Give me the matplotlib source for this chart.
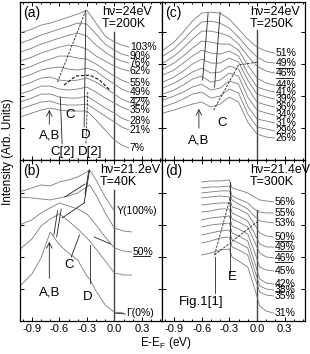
import matplotlib
matplotlib.use('Agg')
import matplotlib.pyplot as plt

plt.rcParams['font.family'] = ['Liberation Sans', 'DejaVu Sans']
plt.rcParams['axes.unicode_minus'] = False

# ---- panel (a): hv=24eV, T=200K  (energy in eV, intensity in arb. units)
e_a = [-1.03, -0.9, -0.8, -0.7, -0.6, -0.5, -0.4, -0.3, -0.2, -0.1, 0.0, 0.08, 0.16]
labels_a = ['103%', '90%', '76%', '62%', '55%', '49%', '42%', '35%', '28%', '21%', '7%']
curves_a = [
    [127, 131, 135, 137, 140, 143, 146, 150, 137, 124, 118, 115, 113],
    [117, 121, 125, 128, 131, 134, 137, 136, 126, 116, 110, 106, 104],
    [108, 112, 116, 119, 122, 125, 127, 124, 115, 108, 102, 99, 97],
    [99, 103, 107, 110, 113, 115, 114, 111, 104, 99, 94, 91, 89],
    [90, 94, 98, 101, 104, 104, 102, 101, 96, 90, 84, 80, 77],
    [82, 86, 90, 92, 93, 91, 90, 92, 89, 82, 76, 71, 68],
    [74, 78, 82, 83, 80, 79, 80, 82, 78, 72, 66, 61, 58],
    [66, 70, 74, 74, 71, 70, 71, 73, 68, 62, 57, 53, 50],
    [58, 62, 66, 66, 63, 62, 62, 64, 58, 52, 47, 42, 39],
    [51, 55, 58, 59, 56, 55, 55, 56, 50, 44, 38, 33, 30],
    [43, 47, 50, 52, 50, 49, 49, 49, 40, 30, 20, 15, 12],
]

# ---- panel (c): hv=24eV, T=250K
e_c = [-1.02, -0.9, -0.8, -0.7, -0.6, -0.5, -0.4, -0.3, -0.2, -0.1, 0.0, 0.1, 0.19]
labels_c = ['51%', '49%', '46%', '44%', '41%', '39%', '36%', '34%', '31%', '29%', '26%']
curves_c = [
    [110, 118, 128, 139, 147, 148, 147, 141, 131, 121, 113, 109, 107],
    [104, 111, 120, 130, 138, 139, 137, 132, 123, 112, 103, 98, 97],
    [97, 104, 112, 121, 129, 129, 127, 124, 116, 104, 94, 89, 87],
    [91, 97, 104, 112, 119, 118, 116, 116, 110, 95, 82, 77, 75],
    [85, 90, 97, 104, 110, 107, 106, 109, 104, 87, 73, 70, 68],
    [78, 83, 89, 96, 101, 97, 97, 102, 98, 80, 66, 63, 61],
    [72, 77, 82, 88, 92, 87, 88, 94, 91, 72, 58, 55, 53],
    [66, 70, 75, 81, 84, 78, 80, 87, 84, 63, 50, 47, 45],
    [60, 64, 68, 73, 76, 70, 72, 79, 76, 54, 41, 39, 37],
    [53, 57, 61, 66, 68, 62, 64, 71, 67, 46, 33, 31, 29],
    [47, 50, 53, 56, 58, 53, 56, 63, 58, 38, 26, 23, 22],
]

# ---- panel (b): hv=21.2eV, T=40K
e_b = [-1.04, -0.9, -0.8, -0.7, -0.6, -0.5, -0.4, -0.3, -0.27, -0.2, -0.1, 0.0, 0.1, 0.19]
labels_b = ['Y(100%)', '', '50%', '', '\u0393(0%)']
label_x_b = [0.03, 0.2, 0.2, 0.2, 0.125]
curves_b = [
    [129, 133, 136, 135, 139, 141, 144, 149, 151, 141, 124, 110],
    [124, 123, 122, 121, 123, 125, 128, 134, 136, 126, 108, 93, 90, 89],
    [96, 101, 108, 113, 118, 115, 112, 107, 104, 96, 84, 73, 70, 69],
    [71, 82, 95, 102, 107, 100, 92, 83, 80, 72, 60, 48, 46, 46],
    [34, 47, 63, 89, 76, 68, 61, 45, 42, 30, 16, 9, 8],
]

# ---- panel (d): hv=21.4eV, T=300K
e_d = [-0.6, -0.5, -0.4, -0.3, -0.27, -0.2, -0.1, -0.03, 0.03, 0.1, 0.18]
labels_d = ['56%', '55%', '53%', '50%', '49%', '46%', '45%', '42%', '38%', '35%', '31%']
curves_d = [
    [139, 140, 140, 141, 133, 131, 128, 124, 121, 120, 119],
    [133, 134, 134, 135, 125, 122, 118, 112, 109, 108, 108],
    [128, 129, 130, 130, 121, 117, 112, 105, 100, 99, 98],
    [123, 124, 125, 124, 114, 112, 107, 97, 88, 85, 84],
    [116, 117, 118, 118, 108, 105, 100, 88, 77, 74, 74],
    [109, 110, 112, 112, 102, 99, 94, 80, 68, 64, 63],
    [101, 103, 104, 105, 95, 92, 87, 70, 54, 51, 50],
    [94, 96, 97, 98, 88, 85, 80, 60, 42, 38, 37],
    [86, 88, 90, 91, 81, 78, 73, 52, 35, 32, 31],
    [78, 80, 83, 84, 74, 71, 66, 45, 29, 26, 25],
    [66, 68, 71, 72, 64, 60, 54, 34, 15, 10, 8],
]
underlined = {'49%', '46%', '50%'}

CURVE = '#7a7a7a'
INK = '#222222'
FS = 7.5
FA = 9.5
DASH = (0, (3, 1.5))


def setup(ax, ytop, show_x):
    ax.set_xlim(-1.03, 0.52)
    ax.set_ylim(0, ytop)
    ax.set_xticks([-0.9, -0.6, -0.3, 0.0, 0.3])
    ax.set_xticklabels(['-0.9', '-0.6', '-0.3', '0.0', '0.3'])
    ax.set_xticks([-1.0, -0.8, -0.7, -0.5, -0.4, -0.2, -0.1, 0.1, 0.2, 0.4, 0.5], minor=True)
    ax.set_yticks([32, 64, 96, 128])
    ax.tick_params(which='both', direction='in', top=True, right=True,
                   labelleft=False, labelbottom=show_x, labelsize=8, width=0.7, pad=2)
    ax.tick_params(which='major', length=3)
    ax.tick_params(which='minor', length=1.5)
    for s in ax.spines.values():
        s.set_linewidth(0.9)


def stack(ax, e, curves, labels, lx):
    for i, y in enumerate(curves):
        ax.plot(e[:len(y)], y, color=CURVE, lw=0.6)
        if labels[i]:
            x0 = lx[i] if isinstance(lx, list) else lx
            ax.text(x0, y[-1], labels[i], fontsize=FS, va='center', ha='left')
            if labels[i] in underlined:
                ax.plot([x0, x0 + 0.19], [y[-1] - 4.5, y[-1] - 4.5], color='k', lw=0.6)


def header(ax, tag, hv, temp, x):
    ax.text(0.02, 0.975, tag, transform=ax.transAxes, fontsize=10, va='top')
    ax.text(x, 0.975, hv, transform=ax.transAxes, fontsize=9, va='top')
    ax.text(x, 0.9, temp, transform=ax.transAxes, fontsize=9, va='top')


def seg(ax, xs, ys, ls='-'):
    ax.plot(xs, ys, color=INK, lw=0.6, ls=ls)


fig = plt.figure(figsize=(3.10, 3.54), dpi=100)
ax_a = fig.add_axes([0.0645, 0.548, 0.458, 0.446])
ax_c = fig.add_axes([0.5226, 0.548, 0.461, 0.446])
ax_b = fig.add_axes([0.0645, 0.0932, 0.458, 0.455])
ax_d = fig.add_axes([0.5226, 0.0932, 0.461, 0.455])

setup(ax_a, 158, False)
setup(ax_c, 158, False)
setup(ax_b, 161, True)
setup(ax_d, 161, True)

# Fermi level markers
ax_a.plot([0, 0], [0, 128], color='#444444', lw=1.0)
ax_c.plot([0, 0], [0, 130], color='#444444', lw=1.0)
ax_b.plot([0, 0], [0, 131], color='#444444', lw=1.0)
ax_d.plot([0, 0], [0, 111], color='#444444', lw=1.0)

# (a)
stack(ax_a, e_a, curves_a, labels_a, 0.17)
header(ax_a, '(a)', 'h\u03bd=24eV', 'T=200K', 0.577)
seg(ax_a, [-0.31, -0.62], [150, 78], DASH)
seg(ax_a, [-0.31, -0.33], [148, 33])
seg(ax_a, [-0.29, -0.31], [68, 16], DASH)
seg(ax_a, [-0.59, -0.57], [63, 16])
ax_a.plot([-0.55, -0.42, -0.27, -0.16, -0.05], [75, 84, 85, 80, 70],
          color='#111111', lw=0.8, ls=DASH)
ax_a.annotate('', xy=(-0.71, 53), xytext=(-0.71, 33),
              arrowprops=dict(arrowstyle='->', color=INK, lw=0.6))
ax_a.text(-0.71, 25, 'A,B', fontsize=FA, ha='center', va='center')
ax_a.text(-0.48, 45, 'C', fontsize=FA, ha='center', va='center')
ax_a.text(-0.31, 25, 'D', fontsize=FA, ha='center', va='center')
ax_a.text(-0.56, 8, 'C[2]', fontsize=FA, ha='center', va='center')
ax_a.text(-0.26, 8, 'D[2]', fontsize=FA, ha='center', va='center')

# (c)
stack(ax_c, e_c, curves_c, labels_c, 0.205)
header(ax_c, '(c)', 'h\u03bd=24eV', 'T=250K', 0.615)
seg(ax_c, [-0.53, -0.59], [147, 80])
seg(ax_c, [-0.40, -0.46], [148, 73])
seg(ax_c, [-0.47, -0.2, 0.0], [50, 95, 98], DASH)
ax_c.annotate('', xy=(-0.63, 54), xytext=(-0.63, 29),
              arrowprops=dict(arrowstyle='->', color=INK, lw=0.6))
ax_c.text(-0.63, 20, 'A,B', fontsize=FA, ha='center', va='center')
ax_c.text(-0.38, 37, 'C', fontsize=FA, ha='center', va='center')

# (b)
stack(ax_b, e_b, curves_b, labels_b, label_x_b)
header(ax_b, '(b)', 'h\u03bd=21.2eV', 'T=40K', 0.563)
seg(ax_b, [-0.27, -0.33], [151, 118])
seg(ax_b, [-0.33, -0.57], [118, 103])
seg(ax_b, [-0.32, -0.54], [137, 124])
seg(ax_b, [-0.28, -0.32], [150, 127])
seg(ax_b, [-0.62, -0.66], [110, 86])
seg(ax_b, [-0.58, -0.63], [112, 84])
seg(ax_b, [-0.47, -0.38], [64, 86])
seg(ax_b, [-0.27, -0.27], [38, 76])
seg(ax_b, [-0.22, -0.04], [84, 77])
seg(ax_b, [0.0, 0.12], [8, 7])
ax_b.annotate('', xy=(-0.71, 82), xytext=(-0.71, 40),
              arrowprops=dict(arrowstyle='->', color=INK, lw=0.6))
ax_b.text(-0.71, 28, 'A,B', fontsize=FA, ha='center', va='center')
ax_b.text(-0.49, 56, 'C', fontsize=FA, ha='center', va='center')
ax_b.text(-0.29, 24, 'D', fontsize=FA, ha='center', va='center')

# (d)
stack(ax_d, e_d, curves_d, labels_d, 0.195)
header(ax_d, '(d)', 'h\u03bd=21.4eV', 'T=300K', 0.615)
seg(ax_d, [-0.29, -0.29], [139, 48])
seg(ax_d, [-0.46, -0.29], [66, 123], DASH)
seg(ax_d, [-0.46, 0.0], [66, 99], DASH)
seg(ax_d, [-0.46, -0.46], [28, 64])
ax_d.text(-0.27, 44, 'E', fontsize=FA, ha='center', va='center')
ax_d.text(-0.6, 19, 'Fig.1[1]', fontsize=FA, ha='center', va='center')

fig.text(0.026, 0.572, 'Intensity (Arb. Units)', rotation=90, fontsize=8.5,
         ha='center', va='center')
fig.text(0.535, 0.031, 'E-E$_\\mathregular{F}$ (eV)', fontsize=8.5, ha='center', va='center')

fig.savefig('out.png', dpi=100)
